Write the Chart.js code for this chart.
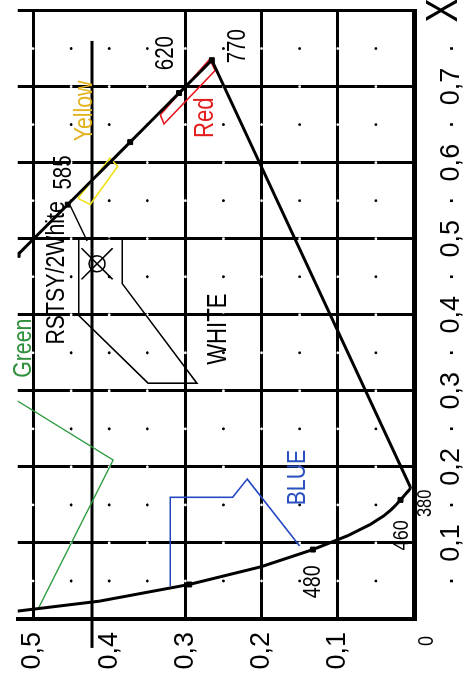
<!DOCTYPE html>
<html>
<head>
<meta charset="utf-8">
<script src="https://cdn.jsdelivr.net/npm/chart.js@4.4.1/dist/chart.umd.min.js"></script>
<style>
  html, body { margin: 0; padding: 0; background: #fff; overflow: hidden; }
  /* the scan is the chart turned a quarter turn counter-clockwise */
  #wrap { position: absolute; left: 0; top: 0; width: 679px; height: 464px;
          transform-origin: 0 0; transform: translateY(679px) rotate(-90deg); }
</style>
</head>
<body>
<div id="wrap"><canvas id="cie" width="679" height="464"></canvas></div>
<script>
// spectral locus (nm, x, y), closed by the purple line back to 380
const locusNm = [380, 400, 420, 430, 440, 450, 455, 460, 465, 470, 475, 480, 485, 490, 495, 500, 505,
                 570, 575, 580, 585, 590, 595, 600, 605, 610, 620, 630, 640, 660, 700, 380];
const locusX = [0.1741, 0.1733, 0.1714, 0.1689, 0.1644, 0.1566, 0.1510, 0.1440, 0.1355, 0.1241, 0.1096, 0.0913, 0.0687, 0.0454, 0.0235, 0.0082, 0.0039,
                0.4441, 0.4788, 0.5125, 0.5448, 0.5752, 0.6029, 0.6270, 0.6482, 0.6658, 0.6915, 0.7079, 0.7190, 0.7300, 0.7347, 0.1741];
const locusY = [0.0050, 0.0048, 0.0051, 0.0069, 0.0109, 0.0177, 0.0227, 0.0297, 0.0399, 0.0578, 0.0868, 0.1327, 0.2007, 0.2950, 0.4127, 0.5384, 0.6548,
                0.5547, 0.5202, 0.4866, 0.4544, 0.4242, 0.3965, 0.3725, 0.3514, 0.3340, 0.3083, 0.2920, 0.2809, 0.2700, 0.2653, 0.0050];
const markerNm = [450, 480, 490, 575, 585, 600, 620, 700];

// signal colour regions
const whiteX = [0.500, 0.441, 0.310, 0.310, 0.399, 0.500, 0.500];
const whiteY = [0.383, 0.383, 0.285, 0.349, 0.440, 0.440, 0.383];
const whiteLinkX = [0.543, 0.497];
const whiteLinkY = [0.451, 0.429];
const yellowX = [0.553, 0.545, 0.595, 0.606, 0.553];
const yellowY = [0.441, 0.425, 0.389, 0.399, 0.441];
const redX = [0.663, 0.651, 0.721, 0.736, 0.663];
const redY = [0.333, 0.328, 0.261, 0.268, 0.333];
const blueX = [0.043, 0.160, 0.160, 0.184, 0.096];
const blueY = [0.320, 0.320, 0.238, 0.219, 0.150];
const greenX = [0.014, 0.209, 0.310];
const greenY = [0.493, 0.395, 0.558];
const markX = [-0.038, 0.760];
const markY = [0.4226, 0.4226];
const whitePoint = [0.467, 0.416];

// axis labels
const xTickLabels = ['', '0,1', '0,2', '0,3', '0,4', '0,5', '0,6', '0,7', ''];
const yTickLabels = ['', '0,1', '0,2', '0,3', '0,4', '0,5'];

// text notes: text, x, y, colour, size
const notes = [
  ['620', 0.744, 0.325, '#000', 25],
  ['770', 0.753, 0.231, '#000', 25],
  ['585', 0.587, 0.459, '#000', 25],
  ['Yellow', 0.668, 0.432, '#e2b21c', 26],
  ['Red', 0.659, 0.273, '#e3201f', 27],
  ['Green', 0.356, 0.512, '#2f8f3a', 26],
  ['RSTSY/2White', 0.455, 0.469, '#000', 26],
  ['WHITE', 0.381, 0.257, '#000', 27],
  ['BLUE', 0.186, 0.152, '#2a4fbf', 26],
  ['480', 0.049, 0.132, '#000', 24],
  ['460', 0.110, 0.016, '#000', 22],
  ['380', 0.152, -0.015, '#000', 20],
  ['X', 0.800, -0.041, '#000', 44],
  ['0', -0.029, -0.017, '#000', 22]
];

const FONT = "'Liberation Sans', Arial, sans-serif";

function pts(xs, ys) {
  return xs.map((v, i) => ({ x: v, y: ys[i] }));
}
function outline(xs, ys, color, width) {
  return { data: pts(xs, ys), showLine: true, borderColor: color, borderWidth: width,
           pointRadius: 0, fill: false };
}

const overlay = {
  id: 'overlay',
  beforeDatasetsDraw(chart) {
    const { ctx, scales: { x, y } } = chart;
    ctx.save();
    for (let i = 1; i < 16; i++) {
      for (let j = 1; j <= 10; j++) {
        const onX = i % 2 === 0;
        const onY = j % 2 === 0 && j !== 8;
        if (onX && onY) continue;
        ctx.fillStyle = (onX || onY) ? '#fff' : '#000';
        ctx.beginPath();
        ctx.arc(x.getPixelForValue(i * 0.05), y.getPixelForValue(j * 0.05), 1.4, 0, Math.PI * 2);
        ctx.fill();
      }
    }
    ctx.restore();
  },
  afterDatasetsDraw(chart) {
    const { ctx, scales: { x, y } } = chart;
    ctx.textAlign = 'center';
    ctx.textBaseline = 'middle';
    notes.forEach(([t, nx, ny, c, s]) => {
      ctx.save();
      ctx.translate(x.getPixelForValue(nx), y.getPixelForValue(ny));
      ctx.scale(0.82, 1); // narrow lettering like the scan
      ctx.fillStyle = c;
      ctx.font = s + 'px ' + FONT;
      ctx.fillText(t, 0, 0);
      ctx.restore();
    });
  }
};

function noPad(scale) {
  scale.paddingTop = 0; scale.paddingBottom = 0;
  scale.paddingLeft = 0; scale.paddingRight = 0;
}

new Chart(document.getElementById('cie'), {
  type: 'scatter',
  data: {
    datasets: [
      outline(locusX, locusY, '#000', 3),
      { data: pts(markerNm.map(n => locusX[locusNm.indexOf(n)]), markerNm.map(n => locusY[locusNm.indexOf(n)])),
        pointStyle: 'rect', pointRadius: 3.5, backgroundColor: '#000', borderColor: '#000', borderWidth: 1 },
      outline(whiteX, whiteY, '#000', 1.6),
      outline(whiteLinkX, whiteLinkY, '#000', 1.6),
      outline(yellowX, yellowY, '#f0e21c', 1.6),
      outline(redX, redY, '#e8141e', 1.6),
      outline(blueX, blueY, '#2548c0', 1.6),
      outline(greenX, greenY, '#2e9a40', 1.3),
      Object.assign(outline(markX, markY, '#000', 3), { clip: false }),
      { data: [{ x: whitePoint[0], y: whitePoint[1] }], pointStyle: 'crossRot', pointRadius: 22,
        borderColor: '#000', borderWidth: 1.5, backgroundColor: 'rgba(0,0,0,0)' },
      { data: [{ x: whitePoint[0], y: whitePoint[1] }], pointStyle: 'circle', pointRadius: 8,
        borderColor: '#000', borderWidth: 1.5, backgroundColor: 'rgba(0,0,0,0)' }
    ]
  },
  options: {
    responsive: false,
    animation: false,
    layout: { autoPadding: false, padding: { top: 17.8, right: 10.5, left: 0, bottom: 0 } },
    plugins: { legend: { display: false }, tooltip: { enabled: false } },
    scales: {
      x: {
        min: 0, max: 0.8,
        afterFit(scale) { scale.height = 50; noPad(scale); },
        ticks: {
          stepSize: 0.05, autoSkip: false, maxRotation: 0, padding: 0,
          color: '#000', font: { family: FONT, size: 27 },
          callback: (v, i) => (i % 2 ? '·' : xTickLabels[i / 2])
        },
        grid: { drawTicks: true, tickLength: 21, tickColor: 'rgba(0,0,0,0)', lineWidth: 3,
                color: c => (c.index % 2 ? 'rgba(0,0,0,0)' : '#000') },
        border: { color: '#000', width: 5 }
      },
      y: {
        min: 0, max: 0.52,
        afterFit(scale) { scale.width = 60; noPad(scale); },
        ticks: {
          stepSize: 0.1, includeBounds: false, padding: 0,
          color: '#000', font: { family: FONT, size: 27 },
          callback: (v, i) => yTickLabels[i]
        },
        grid: { drawTicks: true, tickLength: 13, tickColor: 'rgba(0,0,0,0)', lineWidth: 3,
                color: c => (c.tick && Math.abs(c.tick.value - 0.4) < 1e-6 ? 'rgba(0,0,0,0)' : '#000') },
        border: { color: '#000', width: 4 }
      }
    }
  },
  plugins: [overlay]
});
</script>
</body>
</html>
